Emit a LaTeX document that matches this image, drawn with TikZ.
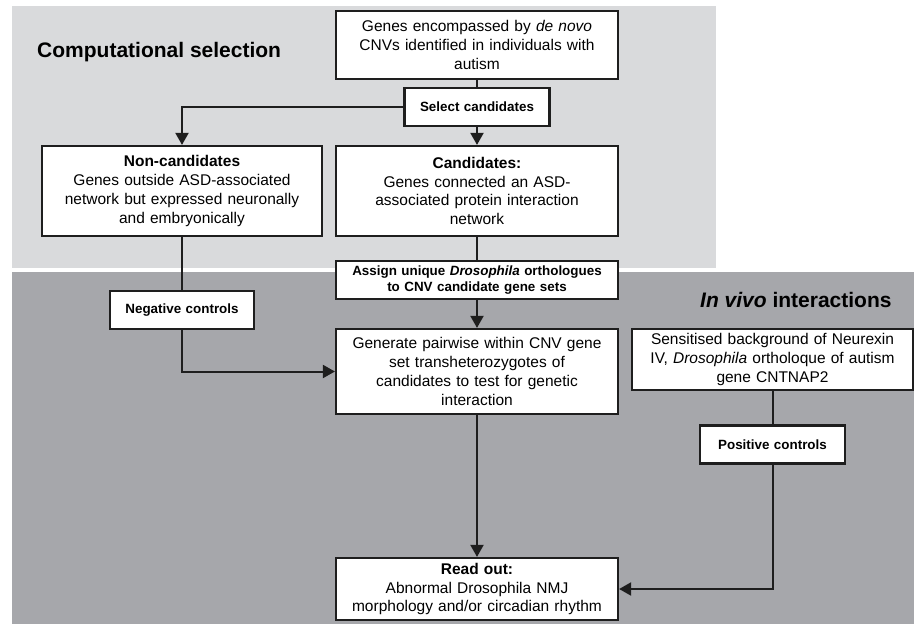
\documentclass[tikz,border=0pt]{standalone}
\usepackage{fontspec}
\setmainfont{Liberation Sans}
\usetikzlibrary{arrows.meta}
\definecolor{panellight}{RGB}{217,218,220}
\definecolor{paneldark}{RGB}{166,167,171}
\definecolor{inkline}{RGB}{30,30,30}

\begin{document}
\begin{tikzpicture}[x=1pt, y=-1pt,
    box/.style={draw=inkline, fill=white, line width=2.2pt, align=center, inner sep=4pt,
      text width=274pt, font=\fontsize{15.5}{18.8}\selectfont},
    smallbox/.style={draw=inkline, fill=white, line width=2.2pt, align=center, inner sep=4pt,
      text width=137pt, minimum height=38pt, font=\fontsize{13.4}{15.6}\selectfont\bfseries},
    link/.style={draw=inkline, line width=2pt},
    arrowline/.style={draw=inkline, line width=2pt, -{Triangle[length=12pt,width=13pt]}},
    paneltitle/.style={anchor=base west, inner sep=0pt, font=\fontsize{21}{25}\selectfont\bfseries}]
    \useasboundingbox (0,0) rectangle (914,624);
    \fill[panellight] (12,6) rectangle (716,268);
    \fill[paneldark] (12,272) rectangle (914,624);

    \node[paneltitle] (comptitle) at (37,57) {Computational selection};
    \node[paneltitle] (invivotitle) at (700,307) {\textit{In vivo} interactions};

    \node[box, minimum height=68pt] (genes) at (477,45) {Genes encompassed by \textit{de novo}\\CNVs identified in individuals with\\autism};
    \node[smallbox] (select) at (477,107) {Select candidates};
    \node[box, text width=272pt, minimum height=90pt] (noncand) at (182,191) {\textbf{Non-candidates}\\Genes outside ASD-associated\\network but expressed neuronally\\and embryonically};
    \node[box, minimum height=90pt] (cand) at (477,191) {\textbf{Candidates:}\\Genes connected an ASD-\\associated protein interaction\\network};
    \node[smallbox, text width=274pt] (assign) at (477,280) {Assign unique \textit{Drosophila} orthologues\\to CNV candidate gene sets};
    \node[smallbox, text width=136pt] (negctrl) at (182,310) {Negative controls};
    \node[box, minimum height=85pt] (pairwise) at (477,371.5) {Generate pairwise within CNV gene\\set transheterozygotes of\\candidates to test for genetic\\interaction};
    \node[box, text width=273pt, minimum height=61pt] (sensitised) at (772.5,359.5) {Sensitised background of Neurexin\\IV, \textit{Drosophila} ortholoque of autism\\gene CNTNAP2};
    \node[smallbox] (posctrl) at (772.5,444.5) {Positive controls};
    \node[box, minimum height=62pt, inner ysep=2pt] (readout) at (477,589) {\textbf{Read out:}\\Abnormal Drosophila NMJ\\morphology and/or circadian rhythm};

    \draw[link] (genes) -- (select);
    \draw[arrowline] (select) -- (cand);
    \draw[arrowline] (select.west) -| (noncand.north);
    \draw[link] (cand) -- (assign);
    \draw[arrowline] (assign) -- (pairwise);
    \draw[link] (noncand) -- (negctrl);
    \draw[arrowline] (negctrl.south) |- (pairwise.west);
    \draw[arrowline] (pairwise) -- (readout);
    \draw[link] (sensitised) -- (posctrl);
    \draw[arrowline] (posctrl.south) |- (readout.east);
\end{tikzpicture}
\end{document}
